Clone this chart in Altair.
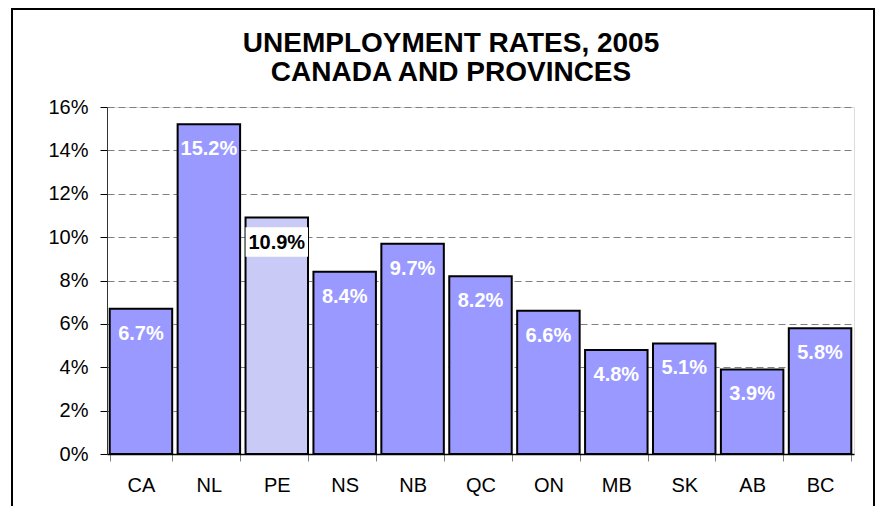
import altair as alt
import pandas as pd

regions = ["CA", "NL", "PE", "NS", "NB", "QC", "ON", "MB", "SK", "AB", "BC"]
rates = [6.7, 15.2, 10.9, 8.4, 9.7, 8.2, 6.6, 4.8, 5.1, 3.9, 5.8]
highlight = "PE"
y_ticks = [0, 2, 4, 6, 8, 10, 12, 14, 16]
title_lines = ["UNEMPLOYMENT RATES, 2005", "CANADA AND PROVINCES"]

df = pd.DataFrame({"region": regions, "rate": rates})
df["hl"] = df["region"] == highlight

W, H = 747, 347
FONT = "Liberation Sans"

x_enc = alt.X("region:N", sort=regions,
              scale=alt.Scale(paddingInner=0.08, paddingOuter=0.04),
              axis=alt.Axis(title=None, labelAngle=0, labelFontSize=20, labelColor="black",
                            labelPadding=14, tickBand="extent", tickSize=7, tickColor="#808080",
                            domainColor="black", domainWidth=1.5, grid=False))
y_scale = alt.Scale(domain=[0, 16], nice=False)
y_enc = alt.Y("rate:Q", scale=y_scale,
              axis=alt.Axis(title=None, values=y_ticks, labelExpr="datum.value + '%'",
                            labelFontSize=20, labelColor="black", labelPadding=12,
                            tickSize=7, tickColor="black", domainColor="#333333",
                            grid=True, gridColor="#808080", gridDash=[7, 4], gridWidth=1))

base = alt.Chart(df)

bars = base.mark_bar(stroke="black", strokeWidth=2).encode(
    x=x_enc, y=y_enc,
    color=alt.condition("datum.hl", alt.value("#cacaf7"), alt.value("#9999ff")),
)

box = base.transform_filter("datum.hl").transform_calculate(
    top="datum.rate - 0.45", bot="datum.rate - 1.8"
).mark_bar(fill="white").encode(
    x=alt.X("region:N", sort=regions),
    y=alt.Y("top:Q", scale=y_scale),
    y2="bot:Q",
)

labels = base.transform_calculate(lbl="format(datum.rate, '.1f') + '%'").mark_text(
    font=FONT, fontSize=20, fontWeight="bold", baseline="middle", dy=25
).encode(
    x=alt.X("region:N", sort=regions),
    y=alt.Y("rate:Q", scale=y_scale),
    text="lbl:N",
    color=alt.condition("datum.hl", alt.value("black"), alt.value("white")),
)

frame = alt.Chart(pd.DataFrame({"f": [0]})).mark_rect(
    filled=False, stroke="black", strokeWidth=2
).encode(x=alt.value(-95), x2=alt.value(767), y=alt.value(-98), y2=alt.value(430))

title_df = pd.DataFrame({"t": title_lines})
title1 = alt.Chart(title_df).transform_filter(alt.datum.t == title_lines[0]).mark_text(
    font=FONT, fontSize=28, fontWeight="bold", color="black", align="center", baseline="alphabetic"
).encode(text="t:N", x=alt.value(344), y=alt.value(-55))
title2 = alt.Chart(title_df).transform_filter(alt.datum.t == title_lines[1]).mark_text(
    font=FONT, fontSize=28, fontWeight="bold", color="black", align="center", baseline="alphabetic"
).encode(text="t:N", x=alt.value(344), y=alt.value(-26))

chart = alt.layer(bars, box, labels, frame, title1, title2).properties(
    width=W, height=H,
    autosize=alt.AutoSizeParams(type="none"),
    padding={"left": 99, "top": 99, "right": 22, "bottom": 52},
).configure_view(stroke="#808080", strokeWidth=2).configure(font=FONT, background="white")

chart.save("out.html", embed_options={"renderer": "svg", "actions": False})
